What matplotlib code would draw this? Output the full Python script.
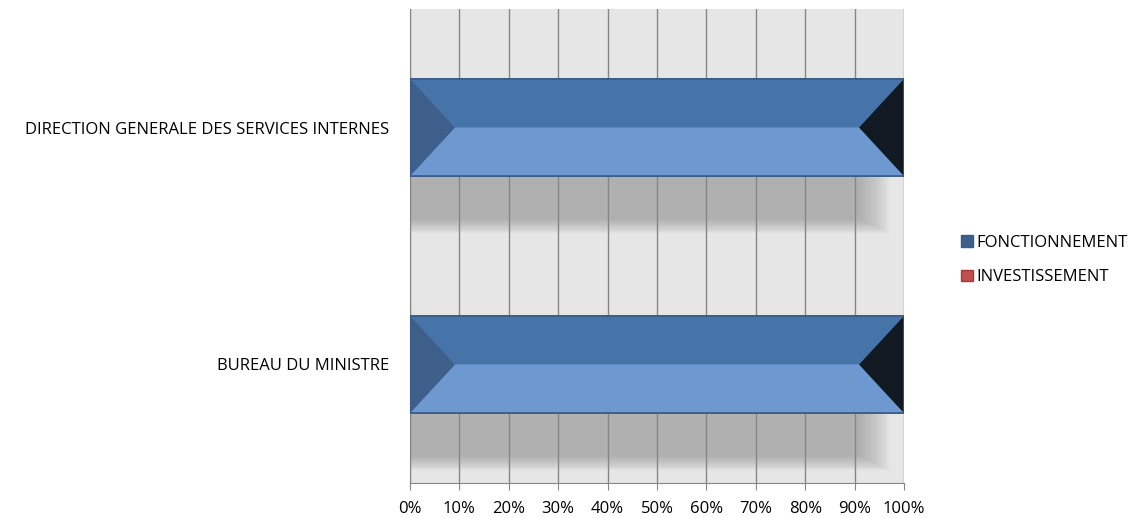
import numpy as np
import matplotlib.pyplot as plt
from matplotlib.patches import Polygon, Patch

# data (percent stacked)
categories = ['BUREAU DU MINISTRE', 'DIRECTION GENERALE DES SERVICES INTERNES']
fonctionnement = [100, 100]
investissement = [0, 0]
series_names = ['FONCTIONNEMENT', 'INVESTISSEMENT']
x_ticks = [0, 10, 20, 30, 40, 50, 60, 70, 80, 90, 100]

plt.rcParams['font.family'] = ['Open Sans', 'DejaVu Sans']

fig = plt.figure(figsize=(11.44, 5.18), dpi=100)
ax = fig.add_axes([410/1144, 35/518, 494/1144, 474/518])
ax.set_facecolor('#e6e6e6')

ypos = np.arange(len(categories))
h = 0.41

# soft shadow under each bar (layered rectangles, fake blur)
tot = np.array(fonctionnement) + np.array(investissement)
n = 14
for k in range(n):
    f = k / (n - 1)
    w = tot * 0.94 + 3.0 - 6.0 * f
    hh = h + 0.06 - 0.12 * f
    ax.barh(ypos - 0.21, w, height=hh, left=0,
            color='#909090', alpha=0.06, linewidth=0, zorder=1)

# grid
for x in x_ticks:
    ax.axvline(x, color='#868686', lw=1.0, zorder=2)

# bars
bars = ax.barh(ypos, fonctionnement, height=h, color='#4f7fbe',
               edgecolor='#3a5a85', linewidth=1.2, zorder=3)
ax.barh(ypos, investissement, height=h, left=fonctionnement, color='#c0504d',
        linewidth=0, zorder=3)

# bevel faces on each bar
bev = 9.1
for b in bars:
    x0, y0 = b.get_x(), b.get_y()
    w, hh = b.get_width(), b.get_height()
    ym = y0 + hh / 2
    x1 = x0 + w
    yt = y0 + hh
    # upper (darker) face
    ax.add_patch(Polygon([(x0, yt), (x1, yt), (x1 - bev, ym), (x0 + bev, ym)],
                         closed=True, color='#4673a8', lw=0, zorder=4))
    # lower (lighter) face
    ax.add_patch(Polygon([(x0, y0), (x1, y0), (x1 - bev, ym), (x0 + bev, ym)],
                         closed=True, color='#6e99d0', lw=0, zorder=4))
    ax.add_patch(Polygon([(x0, y0), (x0 + bev, ym), (x0, yt)],
                         closed=True, color='#3e5f8a', lw=0, zorder=4))
    ax.add_patch(Polygon([(x1, y0), (x1 - bev, ym), (x1, yt)],
                         closed=True, color='#111922', lw=0, zorder=4))
    ax.add_patch(plt.Rectangle((x0, y0), w, hh, fill=False, edgecolor='#3a5a85',
                               lw=1.2, zorder=5))

ax.set_xlim(0, 100)
ax.set_ylim(-0.5, 1.5)
ax.set_xticks(x_ticks)
ax.set_xticklabels([f'{v}%' for v in x_ticks], fontsize=12)
ax.set_yticks(ypos)
ax.set_yticklabels(categories, fontsize=12)
ax.tick_params(axis='y', length=0, pad=15)
ax.tick_params(axis='x', length=5, color='#868686', pad=8)
for s in ['top', 'right']:
    ax.spines[s].set_visible(False)
ax.spines['left'].set_color('#868686')
ax.spines['bottom'].set_color('#868686')

handles = [Patch(facecolor='#3e5f8a', edgecolor='#3a5a85'),
           Patch(facecolor='#c0504d', edgecolor='#a03c3a')]
fig.legend(handles, series_names, loc='center left', bbox_to_anchor=(946/1144, 1 - 260/518),
           frameon=False, fontsize=12, handlelength=0.7, handleheight=0.7,
           handletextpad=0.2, labelspacing=1.1)

fig.savefig('out.png', dpi=100)
